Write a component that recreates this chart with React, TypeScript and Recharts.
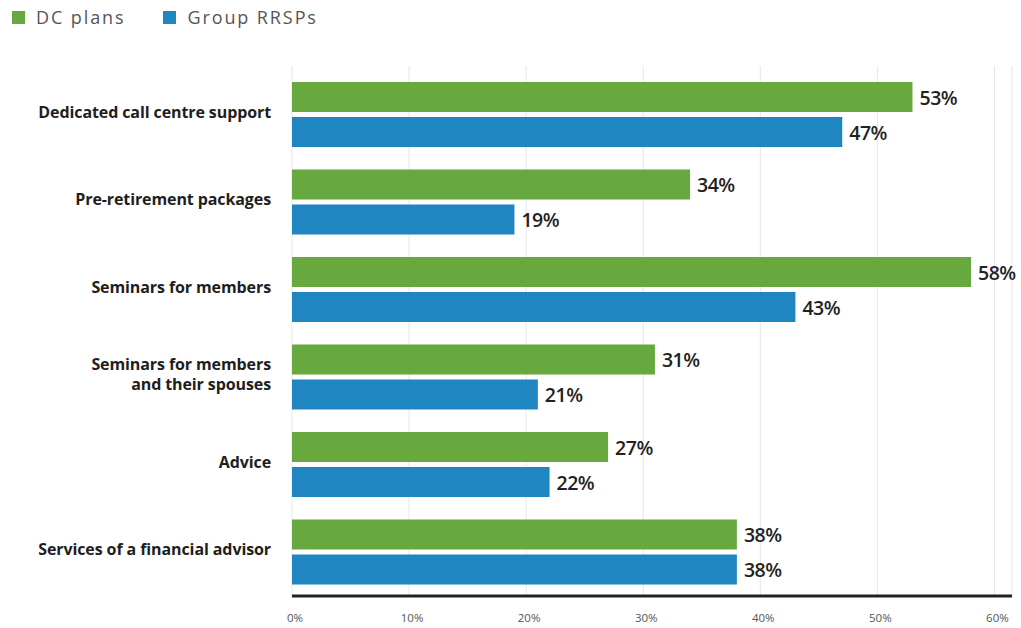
import React from "react";
import { BarChart, Bar, XAxis, YAxis, CartesianGrid, LabelList } from "recharts";

const categories = [
  "Dedicated call centre support",
  "Pre-retirement packages",
  "Seminars for members",
  "Seminars for members\nand their spouses",
  "Advice",
  "Services of a financial advisor",
];
const dcPlans = [53, 34, 58, 31, 27, 38];
const groupRRSPs = [47, 19, 43, 21, 22, 38];
const xTicks = [0, 10, 20, 30, 40, 50, 60];
const seriesNames = ["DC plans", "Group RRSPs"];
const colors = ["#67a83f", "#1f86c1"];

const data = categories.map((c, i) => ({ name: c, dc: dcPlans[i], rrsp: groupRRSPs[i] }));

const CatTick = (props: any) => {
  const { y, payload } = props;
  const lines = String(payload.value).split("\n");
  const lh = 20;
  const start = y - 3 - ((lines.length - 1) * lh) / 2;
  return (
    <text
      x={271}
      y={start}
      textAnchor="end"
      dominantBaseline="central"
      fontFamily="'Open Sans', sans-serif"
      fontWeight={700}
      fontSize={16}
      letterSpacing={-0.1}
      fill="#1e1e1e"
    >
      {lines.map((l, i) => (
        <tspan key={i} x={271} y={start + i * lh}>
          {l}
        </tspan>
      ))}
    </text>
  );
};

const XTick = (props: any) => {
  const { x, y, payload } = props;
  return (
    <text x={x + 3} y={y + 18} textAnchor="middle" fontFamily="'Open Sans', sans-serif" fontSize={11.5} fill="#555">
      {payload.value}%
    </text>
  );
};

const LegendBox = () => (
  <div
    style={{
      position: "absolute",
      left: 12,
      top: 5,
      display: "flex",
      alignItems: "center",
      fontFamily: "'Open Sans', sans-serif",
      fontSize: 18,
      color: "#555",
      letterSpacing: 1.9,
    }}
  >
    {seriesNames.map((n, i) => (
      <div key={n} style={{ display: "flex", alignItems: "center", marginRight: i === 0 ? 38 : 0 }}>
        <div style={{ width: 13, height: 13, background: colors[i], marginRight: 11 }} />
        <span>{n}</span>
      </div>
    ))}
  </div>
);

const ValueLabel = (props: any) => {
  const { x, y, width, height, value } = props;
  return (
    <text
      x={x + width + 7}
      y={y + height / 2}
      dominantBaseline="central"
      fontFamily="'Open Sans', sans-serif"
      fontSize={19.5}
      fontWeight={600}
      letterSpacing={-0.5}
      fill="#222"
    >
      {value}%
    </text>
  );
};

export default function App() {
  return (
    <div style={{ position: "absolute", left: 0, top: 0, width: 1021, height: 628, background: "#fff" }}>
      <BarChart
        width={1021}
        height={628}
        data={data}
        layout="vertical"
        margin={{ top: 66, right: 9, bottom: 0, left: 0 }}
        barGap={5}
        barSize={30}
      >
        <CartesianGrid horizontal={false} vertical={true} stroke="#e6e6e6" />
        <XAxis
          type="number"
          domain={[0, 61.5]}
          ticks={xTicks}
          height={32}
          axisLine={{ stroke: "#222", strokeWidth: 3 }}
          tickLine={false}
          tick={<XTick />}
          allowDataOverflow
        />
        <YAxis
          type="category"
          dataKey="name"
          width={292}
          axisLine={false}
          tickLine={false}
          tick={<CatTick />}
          padding={{ top: 5, bottom: 0 }}
          interval={0}
        />
        <Bar dataKey="dc" fill={colors[0]} isAnimationActive={false}>
          <LabelList dataKey="dc" content={<ValueLabel />} />
        </Bar>
        <Bar dataKey="rrsp" fill={colors[1]} isAnimationActive={false}>
          <LabelList dataKey="rrsp" content={<ValueLabel />} />
        </Bar>
      </BarChart>
      <LegendBox />
    </div>
  );
}
